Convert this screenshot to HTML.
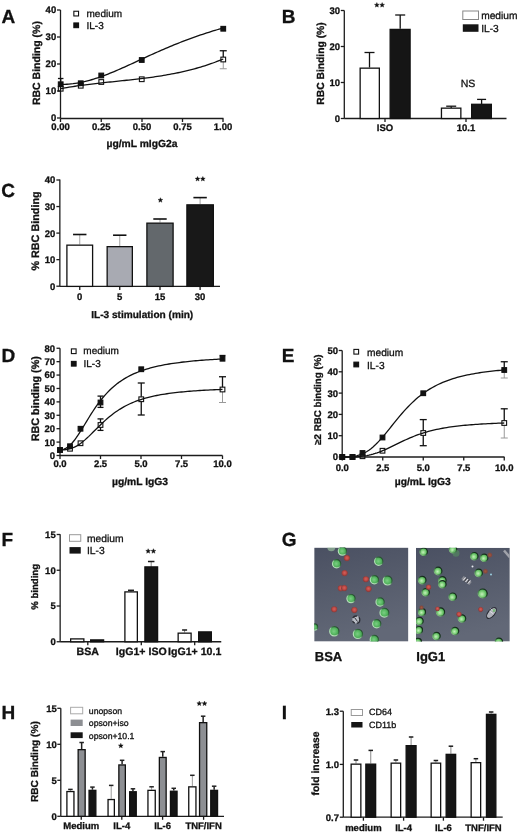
<!DOCTYPE html>
<html><head><meta charset="utf-8"><style>
html,body{margin:0;padding:0;background:#fff;width:520px;height:832px;overflow:hidden}
#w{will-change:transform;width:520px;height:832px}
svg{display:block;font-family:"Liberation Sans", sans-serif;text-rendering:geometricPrecision}
</style></head><body>
<div id="w"><svg width="520" height="832" viewBox="0 0 520 832">
<rect width="520" height="832" fill="#fff"/>
<text x="1.40" y="22.60" font-size="19" text-anchor="start" font-weight="bold" fill="#111" stroke="#111" stroke-width="0.3" >A</text>
<text x="281.70" y="22.80" font-size="19" text-anchor="start" font-weight="bold" fill="#111" stroke="#111" stroke-width="0.3" >B</text>
<text x="1.30" y="196.60" font-size="19" text-anchor="start" font-weight="bold" fill="#111" stroke="#111" stroke-width="0.3" >C</text>
<text x="1.50" y="361.70" font-size="19" text-anchor="start" font-weight="bold" fill="#111" stroke="#111" stroke-width="0.3" >D</text>
<text x="281.70" y="361.70" font-size="19" text-anchor="start" font-weight="bold" fill="#111" stroke="#111" stroke-width="0.3" >E</text>
<text x="1.50" y="545.90" font-size="19" text-anchor="start" font-weight="bold" fill="#111" stroke="#111" stroke-width="0.3" >F</text>
<text x="281.80" y="545.90" font-size="19" text-anchor="start" font-weight="bold" fill="#111" stroke="#111" stroke-width="0.3" >G</text>
<text x="1.40" y="719.30" font-size="19" text-anchor="start" font-weight="bold" fill="#111" stroke="#111" stroke-width="0.3" >H</text>
<text x="281.70" y="719.30" font-size="19" text-anchor="start" font-weight="bold" fill="#111" stroke="#111" stroke-width="0.3" >I</text>
<line x1="60.50" y1="10.00" x2="60.50" y2="118.50" stroke="#1c1c1c" stroke-width="1.3"/>
<line x1="57.00" y1="118.00" x2="60.50" y2="118.00" stroke="#1c1c1c" stroke-width="1.3"/>
<text x="56.20" y="121.42" font-size="9.5" text-anchor="end" font-weight="bold" fill="#111" stroke="#111" stroke-width="0.3" >0</text>
<line x1="57.00" y1="91.00" x2="60.50" y2="91.00" stroke="#1c1c1c" stroke-width="1.3"/>
<text x="56.20" y="94.42" font-size="9.5" text-anchor="end" font-weight="bold" fill="#111" stroke="#111" stroke-width="0.3" >10</text>
<line x1="57.00" y1="64.00" x2="60.50" y2="64.00" stroke="#1c1c1c" stroke-width="1.3"/>
<text x="56.20" y="67.42" font-size="9.5" text-anchor="end" font-weight="bold" fill="#111" stroke="#111" stroke-width="0.3" >20</text>
<line x1="57.00" y1="37.00" x2="60.50" y2="37.00" stroke="#1c1c1c" stroke-width="1.3"/>
<text x="56.20" y="40.42" font-size="9.5" text-anchor="end" font-weight="bold" fill="#111" stroke="#111" stroke-width="0.3" >30</text>
<line x1="57.00" y1="10.00" x2="60.50" y2="10.00" stroke="#1c1c1c" stroke-width="1.3"/>
<text x="56.20" y="13.42" font-size="9.5" text-anchor="end" font-weight="bold" fill="#111" stroke="#111" stroke-width="0.3" >40</text>
<line x1="60.50" y1="118.50" x2="223.50" y2="118.50" stroke="#1c1c1c" stroke-width="1.3"/>
<line x1="60.50" y1="118.50" x2="60.50" y2="122.00" stroke="#1c1c1c" stroke-width="1.3"/>
<text x="60.50" y="130.34" font-size="9.5" text-anchor="middle" font-weight="bold" fill="#111" stroke="#111" stroke-width="0.3" >0.00</text>
<line x1="101.25" y1="118.50" x2="101.25" y2="122.00" stroke="#1c1c1c" stroke-width="1.3"/>
<text x="101.25" y="130.34" font-size="9.5" text-anchor="middle" font-weight="bold" fill="#111" stroke="#111" stroke-width="0.3" >0.25</text>
<line x1="142.00" y1="118.50" x2="142.00" y2="122.00" stroke="#1c1c1c" stroke-width="1.3"/>
<text x="142.00" y="130.34" font-size="9.5" text-anchor="middle" font-weight="bold" fill="#111" stroke="#111" stroke-width="0.3" >0.50</text>
<line x1="182.50" y1="118.50" x2="182.50" y2="122.00" stroke="#1c1c1c" stroke-width="1.3"/>
<text x="182.50" y="130.34" font-size="9.5" text-anchor="middle" font-weight="bold" fill="#111" stroke="#111" stroke-width="0.3" >0.75</text>
<line x1="223.00" y1="118.50" x2="223.00" y2="122.00" stroke="#1c1c1c" stroke-width="1.3"/>
<text x="223.00" y="130.34" font-size="9.5" text-anchor="middle" font-weight="bold" fill="#111" stroke="#111" stroke-width="0.3" >1.00</text>
<text x="0" y="0" font-size="10.5" text-anchor="middle" font-weight="bold" fill="#111" stroke="#111" stroke-width="0.3" transform="translate(40.28,63.10) rotate(-90)">RBC Binding (%)</text>
<text x="142.00" y="146.50" font-size="10.3" text-anchor="middle" font-weight="bold" fill="#111" stroke="#111" stroke-width="0.3" >µg/mL mIgG2a</text>
<rect x="73.85" y="11.25" width="4.70" height="4.70" fill="none" stroke="#111" stroke-width="1.1"/>
<rect x="73.85" y="22.95" width="4.70" height="4.70" fill="#111" stroke="#111" stroke-width="1.1"/>
<text x="86.50" y="17.00" font-size="10" text-anchor="start" font-weight="normal" fill="#111" stroke="#111" stroke-width="0.3" >medium</text>
<text x="86.50" y="28.80" font-size="10" text-anchor="start" font-weight="normal" fill="#111" stroke="#111" stroke-width="0.3" >IL-3</text>
<path d="M60.71,84.42 L62.77,84.40 L64.82,84.34 L66.88,84.23 L68.94,84.08 L71.00,83.89 L73.05,83.66 L75.11,83.38 L77.17,83.06 L79.23,82.71 L81.28,82.31 L83.34,81.87 L85.40,81.39 L87.46,80.88 L89.51,80.33 L91.57,79.75 L93.63,79.14 L95.69,78.49 L97.74,77.82 L99.80,77.11 L101.86,76.38 L103.92,75.63 L105.97,74.85 L108.03,74.04 L110.09,73.22 L112.15,72.38 L114.20,71.53 L116.26,70.65 L118.32,69.77 L120.38,68.87 L122.43,67.96 L124.49,67.04 L126.55,66.11 L128.61,65.17 L130.66,64.23 L132.72,63.29 L134.78,62.34 L136.84,61.39 L138.89,60.44 L140.95,59.49 L143.01,58.54 L145.07,57.59 L147.12,56.65 L149.18,55.71 L151.24,54.77 L153.30,53.84 L155.35,52.92 L157.41,52.00 L159.47,51.09 L161.53,50.19 L163.58,49.30 L165.64,48.41 L167.70,47.54 L169.76,46.67 L171.81,45.81 L173.87,44.97 L175.93,44.13 L177.99,43.31 L180.04,42.49 L182.10,41.69 L184.16,40.90 L186.22,40.11 L188.27,39.34 L190.33,38.58 L192.39,37.84 L194.45,37.10 L196.50,36.38 L198.56,35.66 L200.62,34.96 L202.68,34.27 L204.73,33.59 L206.79,32.92 L208.85,32.27 L210.91,31.62 L212.96,30.98 L215.02,30.36 L217.08,29.75 L219.14,29.15 L221.19,28.55 L223.25,27.97" fill="none" stroke="#111" stroke-width="1.3"/>
<path d="M60.70,88.67 L62.76,88.29 L64.82,87.92 L66.87,87.57 L68.93,87.22 L70.99,86.89 L73.05,86.57 L75.10,86.26 L77.16,85.96 L79.22,85.66 L81.28,85.38 L83.33,85.10 L85.39,84.83 L87.45,84.57 L89.51,84.31 L91.56,84.06 L93.62,83.81 L95.68,83.57 L97.74,83.34 L99.79,83.11 L101.85,82.88 L103.91,82.66 L105.97,82.44 L108.02,82.22 L110.08,82.00 L112.14,81.78 L114.20,81.57 L116.26,81.35 L118.31,81.14 L120.37,80.92 L122.43,80.71 L124.49,80.49 L126.54,80.27 L128.60,80.05 L130.66,79.82 L132.72,79.59 L134.77,79.36 L136.83,79.13 L138.89,78.88 L140.95,78.64 L143.00,78.38 L145.06,78.13 L147.12,77.86 L149.18,77.59 L151.23,77.31 L153.29,77.02 L155.35,76.72 L157.41,76.42 L159.46,76.10 L161.52,75.77 L163.58,75.44 L165.64,75.09 L167.69,74.73 L169.75,74.36 L171.81,73.98 L173.87,73.59 L175.93,73.18 L177.98,72.75 L180.04,72.32 L182.10,71.87 L184.16,71.40 L186.21,70.92 L188.27,70.42 L190.33,69.90 L192.39,69.37 L194.44,68.82 L196.50,68.25 L198.56,67.67 L200.62,67.06 L202.67,66.44 L204.73,65.79 L206.79,65.13 L208.85,64.44 L210.90,63.73 L212.96,63.01 L215.02,62.25 L217.08,61.48 L219.13,60.68 L221.19,59.86 L223.25,59.02" fill="none" stroke="#111" stroke-width="1.3"/>
<line x1="60.70" y1="81.85" x2="60.70" y2="78.50" stroke="#111" stroke-width="1.3"/>
<line x1="57.95" y1="78.50" x2="63.45" y2="78.50" stroke="#111" stroke-width="1.3"/>
<line x1="223.25" y1="57.10" x2="223.25" y2="50.75" stroke="#111" stroke-width="1.3"/>
<line x1="219.75" y1="50.75" x2="226.75" y2="50.75" stroke="#111" stroke-width="1.3"/>
<line x1="223.25" y1="61.90" x2="223.25" y2="68.75" stroke="#999" stroke-width="1.0"/>
<line x1="219.75" y1="68.75" x2="226.75" y2="68.75" stroke="#999" stroke-width="1.0"/>
<rect x="58.35" y="81.90" width="4.70" height="4.70" fill="#111" stroke="#111" stroke-width="1.1"/>
<rect x="78.40" y="80.90" width="4.70" height="4.70" fill="#111" stroke="#111" stroke-width="1.1"/>
<rect x="98.90" y="73.15" width="4.70" height="4.70" fill="#111" stroke="#111" stroke-width="1.1"/>
<rect x="139.40" y="57.65" width="4.70" height="4.70" fill="#111" stroke="#111" stroke-width="1.1"/>
<rect x="220.90" y="26.40" width="4.70" height="4.70" fill="#111" stroke="#111" stroke-width="1.1"/>
<rect x="58.35" y="86.40" width="4.70" height="4.70" fill="none" stroke="#111" stroke-width="1.1"/>
<rect x="78.40" y="83.40" width="4.70" height="4.70" fill="none" stroke="#111" stroke-width="1.1"/>
<rect x="98.90" y="79.65" width="4.70" height="4.70" fill="none" stroke="#111" stroke-width="1.1"/>
<rect x="139.40" y="76.90" width="4.70" height="4.70" fill="none" stroke="#111" stroke-width="1.1"/>
<rect x="220.90" y="57.15" width="4.70" height="4.70" fill="none" stroke="#111" stroke-width="1.1"/>
<line x1="344.30" y1="10.50" x2="344.30" y2="118.50" stroke="#1c1c1c" stroke-width="1.3"/>
<line x1="340.80" y1="118.50" x2="344.30" y2="118.50" stroke="#1c1c1c" stroke-width="1.3"/>
<text x="340.00" y="121.92" font-size="9.5" text-anchor="end" font-weight="bold" fill="#111" stroke="#111" stroke-width="0.3" >0</text>
<line x1="340.80" y1="82.50" x2="344.30" y2="82.50" stroke="#1c1c1c" stroke-width="1.3"/>
<text x="340.00" y="85.92" font-size="9.5" text-anchor="end" font-weight="bold" fill="#111" stroke="#111" stroke-width="0.3" >10</text>
<line x1="340.80" y1="46.50" x2="344.30" y2="46.50" stroke="#1c1c1c" stroke-width="1.3"/>
<text x="340.00" y="49.92" font-size="9.5" text-anchor="end" font-weight="bold" fill="#111" stroke="#111" stroke-width="0.3" >20</text>
<line x1="340.80" y1="10.50" x2="344.30" y2="10.50" stroke="#1c1c1c" stroke-width="1.3"/>
<text x="340.00" y="13.92" font-size="9.5" text-anchor="end" font-weight="bold" fill="#111" stroke="#111" stroke-width="0.3" >30</text>
<line x1="344.30" y1="118.50" x2="506.50" y2="118.50" stroke="#1c1c1c" stroke-width="1.3"/>
<line x1="385.00" y1="118.50" x2="385.00" y2="122.00" stroke="#1c1c1c" stroke-width="1.3"/>
<text x="385.00" y="131.30" font-size="9.5" text-anchor="middle" font-weight="bold" fill="#111" stroke="#111" stroke-width="0.3" >ISO</text>
<line x1="466.00" y1="118.50" x2="466.00" y2="122.00" stroke="#1c1c1c" stroke-width="1.3"/>
<text x="466.00" y="131.30" font-size="9.5" text-anchor="middle" font-weight="bold" fill="#111" stroke="#111" stroke-width="0.3" >10.1</text>
<text x="0" y="0" font-size="10.3" text-anchor="middle" font-weight="bold" fill="#111" stroke="#111" stroke-width="0.3" transform="translate(323.71,63.50) rotate(-90)">RBC Binding (%)</text>
<line x1="369.50" y1="67.50" x2="369.50" y2="52.50" stroke="#111" stroke-width="1.3"/>
<line x1="364.50" y1="52.50" x2="374.50" y2="52.50" stroke="#111" stroke-width="1.3"/>
<rect x="360.15" y="68.15" width="19.20" height="50.35" fill="#fff" stroke="#111" stroke-width="1.3"/>
<line x1="400.20" y1="28.75" x2="400.20" y2="15.00" stroke="#111" stroke-width="1.3"/>
<line x1="395.20" y1="15.00" x2="405.20" y2="15.00" stroke="#111" stroke-width="1.3"/>
<rect x="390.15" y="29.40" width="19.95" height="89.10" fill="#151515" stroke="#111" stroke-width="1.3"/>
<line x1="451.20" y1="108.00" x2="451.20" y2="106.20" stroke="#111" stroke-width="1.3"/>
<line x1="446.20" y1="106.20" x2="456.20" y2="106.20" stroke="#111" stroke-width="1.3"/>
<rect x="441.45" y="108.15" width="19.40" height="10.35" fill="#fff" stroke="#111" stroke-width="1.3"/>
<line x1="481.60" y1="104.00" x2="481.60" y2="99.40" stroke="#111" stroke-width="1.3"/>
<line x1="477.10" y1="99.40" x2="486.10" y2="99.40" stroke="#111" stroke-width="1.3"/>
<rect x="471.65" y="104.30" width="19.70" height="14.20" fill="#151515" stroke="#111" stroke-width="1.3"/>
<polygon points="376.85,2.60 377.50,4.21 379.23,4.33 377.90,5.44 378.32,7.12 376.85,6.20 375.38,7.12 375.80,5.44 374.47,4.33 376.20,4.21" fill="#111" stroke="#111" stroke-width="0.4"/>
<polygon points="382.15,2.60 382.80,4.21 384.53,4.33 383.20,5.44 383.62,7.12 382.15,6.20 380.68,7.12 381.10,5.44 379.77,4.33 381.50,4.21" fill="#111" stroke="#111" stroke-width="0.4"/>
<text x="468.00" y="86.90" font-size="10.5" text-anchor="middle" font-weight="normal" fill="#111" stroke="#111" stroke-width="0.3" >NS</text>
<rect x="462.8" y="11" width="15.7" height="8.5" fill="#fff" stroke="#888" stroke-width="1"/>
<rect x="462.8" y="24.3" width="15.7" height="7.5" fill="#151515"/>
<text x="481.20" y="19.30" font-size="10.2" text-anchor="start" font-weight="normal" fill="#111" stroke="#111" stroke-width="0.3" >medium</text>
<text x="481.20" y="31.60" font-size="10.2" text-anchor="start" font-weight="normal" fill="#111" stroke="#111" stroke-width="0.3" >IL-3</text>
<line x1="59.85" y1="179.60" x2="59.85" y2="286.40" stroke="#1c1c1c" stroke-width="1.3"/>
<line x1="56.35" y1="286.20" x2="59.85" y2="286.20" stroke="#1c1c1c" stroke-width="1.3"/>
<text x="55.30" y="289.62" font-size="9.5" text-anchor="end" font-weight="bold" fill="#111" stroke="#111" stroke-width="0.3" >0</text>
<line x1="56.35" y1="259.65" x2="59.85" y2="259.65" stroke="#1c1c1c" stroke-width="1.3"/>
<text x="55.30" y="263.07" font-size="9.5" text-anchor="end" font-weight="bold" fill="#111" stroke="#111" stroke-width="0.3" >10</text>
<line x1="56.35" y1="233.10" x2="59.85" y2="233.10" stroke="#1c1c1c" stroke-width="1.3"/>
<text x="55.30" y="236.52" font-size="9.5" text-anchor="end" font-weight="bold" fill="#111" stroke="#111" stroke-width="0.3" >20</text>
<line x1="56.35" y1="206.55" x2="59.85" y2="206.55" stroke="#1c1c1c" stroke-width="1.3"/>
<text x="55.30" y="209.97" font-size="9.5" text-anchor="end" font-weight="bold" fill="#111" stroke="#111" stroke-width="0.3" >30</text>
<line x1="56.35" y1="180.00" x2="59.85" y2="180.00" stroke="#1c1c1c" stroke-width="1.3"/>
<text x="55.30" y="183.42" font-size="9.5" text-anchor="end" font-weight="bold" fill="#111" stroke="#111" stroke-width="0.3" >40</text>
<line x1="59.85" y1="286.40" x2="220.00" y2="286.40" stroke="#1c1c1c" stroke-width="1.3"/>
<line x1="79.75" y1="286.40" x2="79.75" y2="289.90" stroke="#1c1c1c" stroke-width="1.3"/>
<text x="79.75" y="299.60" font-size="9.5" text-anchor="middle" font-weight="bold" fill="#111" stroke="#111" stroke-width="0.3" >0</text>
<line x1="119.75" y1="286.40" x2="119.75" y2="289.90" stroke="#1c1c1c" stroke-width="1.3"/>
<text x="119.75" y="299.60" font-size="9.5" text-anchor="middle" font-weight="bold" fill="#111" stroke="#111" stroke-width="0.3" >5</text>
<line x1="160.00" y1="286.40" x2="160.00" y2="289.90" stroke="#1c1c1c" stroke-width="1.3"/>
<text x="160.00" y="299.60" font-size="9.5" text-anchor="middle" font-weight="bold" fill="#111" stroke="#111" stroke-width="0.3" >15</text>
<line x1="200.10" y1="286.40" x2="200.10" y2="289.90" stroke="#1c1c1c" stroke-width="1.3"/>
<text x="200.10" y="299.60" font-size="9.5" text-anchor="middle" font-weight="bold" fill="#111" stroke="#111" stroke-width="0.3" >30</text>
<text x="0" y="0" font-size="10.8" text-anchor="middle" font-weight="bold" fill="#111" stroke="#111" stroke-width="0.3" transform="translate(38.89,231.00) rotate(-90)">% RBC Binding</text>
<text x="142.20" y="317.60" font-size="10.1" text-anchor="middle" font-weight="bold" fill="#111" stroke="#111" stroke-width="0.3" >IL-3 stimulation (min)</text>
<line x1="79.75" y1="244.50" x2="79.75" y2="234.50" stroke="#9a9a9a" stroke-width="0.9"/>
<line x1="73.05" y1="234.50" x2="86.45" y2="234.50" stroke="#111" stroke-width="1.6"/>
<rect x="66.90" y="245.15" width="25.70" height="41.25" fill="#fff" stroke="#111" stroke-width="1.3"/>
<line x1="119.75" y1="246.00" x2="119.75" y2="235.20" stroke="#9a9a9a" stroke-width="0.9"/>
<line x1="113.05" y1="235.20" x2="126.45" y2="235.20" stroke="#111" stroke-width="1.6"/>
<rect x="107.15" y="246.65" width="25.20" height="39.75" fill="#a8aab2" stroke="#111" stroke-width="1.3"/>
<line x1="160.00" y1="222.50" x2="160.00" y2="219.00" stroke="#9a9a9a" stroke-width="0.9"/>
<line x1="153.30" y1="219.00" x2="166.70" y2="219.00" stroke="#111" stroke-width="1.6"/>
<rect x="146.90" y="223.15" width="26.20" height="63.25" fill="#63686c" stroke="#111" stroke-width="1.3"/>
<line x1="200.10" y1="204.20" x2="200.10" y2="197.60" stroke="#9a9a9a" stroke-width="0.9"/>
<line x1="193.40" y1="197.60" x2="206.80" y2="197.60" stroke="#111" stroke-width="1.6"/>
<rect x="186.90" y="204.85" width="26.45" height="81.55" fill="#181818" stroke="#111" stroke-width="1.3"/>
<polygon points="160.40,197.70 161.05,199.31 162.78,199.43 161.45,200.54 161.87,202.22 160.40,201.30 158.93,202.22 159.35,200.54 158.02,199.43 159.75,199.31" fill="#111" stroke="#111" stroke-width="0.4"/>
<polygon points="197.55,176.50 198.20,178.11 199.93,178.23 198.60,179.34 199.02,181.02 197.55,180.10 196.08,181.02 196.50,179.34 195.17,178.23 196.90,178.11" fill="#111" stroke="#111" stroke-width="0.4"/>
<polygon points="202.85,176.50 203.50,178.11 205.23,178.23 203.90,179.34 204.32,181.02 202.85,180.10 201.38,181.02 201.80,179.34 200.47,178.23 202.20,178.11" fill="#111" stroke="#111" stroke-width="0.4"/>
<line x1="60.00" y1="348.25" x2="60.00" y2="455.50" stroke="#1c1c1c" stroke-width="1.3"/>
<line x1="56.50" y1="455.50" x2="60.00" y2="455.50" stroke="#1c1c1c" stroke-width="1.3"/>
<text x="55.00" y="458.92" font-size="9.5" text-anchor="end" font-weight="bold" fill="#111" stroke="#111" stroke-width="0.3" >0</text>
<line x1="56.50" y1="442.09" x2="60.00" y2="442.09" stroke="#1c1c1c" stroke-width="1.3"/>
<text x="55.00" y="445.51" font-size="9.5" text-anchor="end" font-weight="bold" fill="#111" stroke="#111" stroke-width="0.3" >10</text>
<line x1="56.50" y1="428.69" x2="60.00" y2="428.69" stroke="#1c1c1c" stroke-width="1.3"/>
<text x="55.00" y="432.11" font-size="9.5" text-anchor="end" font-weight="bold" fill="#111" stroke="#111" stroke-width="0.3" >20</text>
<line x1="56.50" y1="415.28" x2="60.00" y2="415.28" stroke="#1c1c1c" stroke-width="1.3"/>
<text x="55.00" y="418.70" font-size="9.5" text-anchor="end" font-weight="bold" fill="#111" stroke="#111" stroke-width="0.3" >30</text>
<line x1="56.50" y1="401.88" x2="60.00" y2="401.88" stroke="#1c1c1c" stroke-width="1.3"/>
<text x="55.00" y="405.30" font-size="9.5" text-anchor="end" font-weight="bold" fill="#111" stroke="#111" stroke-width="0.3" >40</text>
<line x1="56.50" y1="388.47" x2="60.00" y2="388.47" stroke="#1c1c1c" stroke-width="1.3"/>
<text x="55.00" y="391.89" font-size="9.5" text-anchor="end" font-weight="bold" fill="#111" stroke="#111" stroke-width="0.3" >50</text>
<line x1="56.50" y1="375.06" x2="60.00" y2="375.06" stroke="#1c1c1c" stroke-width="1.3"/>
<text x="55.00" y="378.48" font-size="9.5" text-anchor="end" font-weight="bold" fill="#111" stroke="#111" stroke-width="0.3" >60</text>
<line x1="56.50" y1="361.66" x2="60.00" y2="361.66" stroke="#1c1c1c" stroke-width="1.3"/>
<text x="55.00" y="365.08" font-size="9.5" text-anchor="end" font-weight="bold" fill="#111" stroke="#111" stroke-width="0.3" >70</text>
<line x1="56.50" y1="348.25" x2="60.00" y2="348.25" stroke="#1c1c1c" stroke-width="1.3"/>
<text x="55.00" y="351.67" font-size="9.5" text-anchor="end" font-weight="bold" fill="#111" stroke="#111" stroke-width="0.3" >80</text>
<line x1="60.00" y1="455.50" x2="222.50" y2="455.50" stroke="#1c1c1c" stroke-width="1.3"/>
<line x1="60.00" y1="455.50" x2="60.00" y2="459.00" stroke="#1c1c1c" stroke-width="1.3"/>
<text x="60.00" y="467.34" font-size="9.5" text-anchor="middle" font-weight="bold" fill="#111" stroke="#111" stroke-width="0.3" >0.0</text>
<line x1="100.50" y1="455.50" x2="100.50" y2="459.00" stroke="#1c1c1c" stroke-width="1.3"/>
<text x="100.50" y="467.34" font-size="9.5" text-anchor="middle" font-weight="bold" fill="#111" stroke="#111" stroke-width="0.3" >2.5</text>
<line x1="141.00" y1="455.50" x2="141.00" y2="459.00" stroke="#1c1c1c" stroke-width="1.3"/>
<text x="141.00" y="467.34" font-size="9.5" text-anchor="middle" font-weight="bold" fill="#111" stroke="#111" stroke-width="0.3" >5.0</text>
<line x1="181.50" y1="455.50" x2="181.50" y2="459.00" stroke="#1c1c1c" stroke-width="1.3"/>
<text x="181.50" y="467.34" font-size="9.5" text-anchor="middle" font-weight="bold" fill="#111" stroke="#111" stroke-width="0.3" >7.5</text>
<line x1="222.50" y1="455.50" x2="222.50" y2="459.00" stroke="#1c1c1c" stroke-width="1.3"/>
<text x="222.50" y="467.34" font-size="9.5" text-anchor="middle" font-weight="bold" fill="#111" stroke="#111" stroke-width="0.3" >10.0</text>
<text x="0" y="0" font-size="10.8" text-anchor="middle" font-weight="bold" fill="#111" stroke="#111" stroke-width="0.3" transform="translate(39.19,398.70) rotate(-90)">RBC binding (%)</text>
<text x="140.00" y="485.20" font-size="10.3" text-anchor="middle" font-weight="bold" fill="#111" stroke="#111" stroke-width="0.3" >µg/mL IgG3</text>
<rect x="71.40" y="348.90" width="4.70" height="4.70" fill="none" stroke="#111" stroke-width="1.1"/>
<rect x="71.40" y="361.40" width="4.70" height="4.70" fill="#111" stroke="#111" stroke-width="1.1"/>
<text x="83.30" y="354.20" font-size="10" text-anchor="start" font-weight="normal" fill="#111" stroke="#111" stroke-width="0.3" >medium</text>
<text x="83.50" y="367.30" font-size="10" text-anchor="start" font-weight="normal" fill="#111" stroke="#111" stroke-width="0.3" >IL-3</text>
<path d="M60.01,449.74 L62.07,449.59 L64.12,449.07 L66.18,448.13 L68.24,446.75 L70.29,444.96 L72.35,442.78 L74.41,440.26 L76.46,437.45 L78.52,434.40 L80.58,431.19 L82.64,427.86 L84.69,424.48 L86.75,421.09 L88.81,417.74 L90.86,414.45 L92.92,411.26 L94.98,408.18 L97.03,405.23 L99.09,402.42 L101.15,399.75 L103.20,397.23 L105.26,394.85 L107.32,392.61 L109.37,390.51 L111.43,388.54 L113.49,386.70 L115.54,384.97 L117.60,383.36 L119.66,381.85 L121.72,380.44 L123.77,379.12 L125.83,377.89 L127.89,376.74 L129.94,375.66 L132.00,374.64 L134.06,373.70 L136.11,372.81 L138.17,371.98 L140.23,371.20 L142.28,370.46 L144.34,369.77 L146.40,369.12 L148.45,368.51 L150.51,367.94 L152.57,367.40 L154.62,366.89 L156.68,366.40 L158.74,365.95 L160.79,365.52 L162.85,365.11 L164.91,364.72 L166.97,364.35 L169.02,364.01 L171.08,363.68 L173.14,363.37 L175.19,363.07 L177.25,362.79 L179.31,362.52 L181.36,362.26 L183.42,362.02 L185.48,361.78 L187.53,361.56 L189.59,361.35 L191.65,361.15 L193.70,360.96 L195.76,360.77 L197.82,360.59 L199.87,360.43 L201.93,360.26 L203.99,360.11 L206.05,359.96 L208.10,359.82 L210.16,359.68 L212.22,359.55 L214.27,359.42 L216.33,359.30 L218.39,359.19 L220.44,359.07 L222.50,358.97" fill="none" stroke="#111" stroke-width="1.3"/>
<path d="M60.01,449.85 L62.07,449.84 L64.12,449.74 L66.18,449.54 L68.24,449.20 L70.29,448.69 L72.35,448.01 L74.41,447.14 L76.46,446.08 L78.52,444.84 L80.58,443.42 L82.64,441.85 L84.69,440.13 L86.75,438.29 L88.81,436.37 L90.86,434.37 L92.92,432.33 L94.98,430.27 L97.03,428.22 L99.09,426.18 L101.15,424.19 L103.20,422.24 L105.26,420.36 L107.32,418.54 L109.37,416.80 L111.43,415.15 L113.49,413.57 L115.54,412.08 L117.60,410.67 L119.66,409.33 L121.72,408.08 L123.77,406.90 L125.83,405.79 L127.89,404.76 L129.94,403.78 L132.00,402.87 L134.06,402.01 L136.11,401.21 L138.17,400.46 L140.23,399.76 L142.28,399.10 L144.34,398.48 L146.40,397.91 L148.45,397.36 L150.51,396.85 L152.57,396.38 L154.62,395.93 L156.68,395.50 L158.74,395.11 L160.79,394.73 L162.85,394.38 L164.91,394.05 L166.97,393.74 L169.02,393.44 L171.08,393.17 L173.14,392.90 L175.19,392.66 L177.25,392.42 L179.31,392.20 L181.36,391.99 L183.42,391.79 L185.48,391.60 L187.53,391.42 L189.59,391.25 L191.65,391.09 L193.70,390.94 L195.76,390.79 L197.82,390.65 L199.87,390.52 L201.93,390.39 L203.99,390.27 L206.05,390.16 L208.10,390.05 L210.16,389.94 L212.22,389.84 L214.27,389.75 L216.33,389.66 L218.39,389.57 L220.44,389.49 L222.50,389.41" fill="none" stroke="#111" stroke-width="1.3"/>
<line x1="100.50" y1="399.90" x2="100.50" y2="396.10" stroke="#111" stroke-width="1.3"/>
<line x1="97.50" y1="396.10" x2="103.50" y2="396.10" stroke="#111" stroke-width="1.3"/>
<line x1="100.50" y1="404.70" x2="100.50" y2="407.40" stroke="#111" stroke-width="1.3"/>
<line x1="97.50" y1="407.40" x2="103.50" y2="407.40" stroke="#111" stroke-width="1.3"/>
<line x1="100.50" y1="422.60" x2="100.50" y2="418.90" stroke="#111" stroke-width="1.3"/>
<line x1="97.50" y1="418.90" x2="103.50" y2="418.90" stroke="#111" stroke-width="1.3"/>
<line x1="100.50" y1="427.40" x2="100.50" y2="430.40" stroke="#111" stroke-width="1.3"/>
<line x1="97.50" y1="430.40" x2="103.50" y2="430.40" stroke="#111" stroke-width="1.3"/>
<line x1="141.25" y1="396.85" x2="141.25" y2="383.00" stroke="#111" stroke-width="1.3"/>
<line x1="137.75" y1="383.00" x2="144.75" y2="383.00" stroke="#111" stroke-width="1.3"/>
<line x1="141.25" y1="401.65" x2="141.25" y2="415.00" stroke="#111" stroke-width="1.3"/>
<line x1="137.75" y1="415.00" x2="144.75" y2="415.00" stroke="#111" stroke-width="1.3"/>
<line x1="222.50" y1="387.10" x2="222.50" y2="376.75" stroke="#111" stroke-width="1.3"/>
<line x1="219.00" y1="376.75" x2="226.00" y2="376.75" stroke="#111" stroke-width="1.3"/>
<line x1="222.50" y1="391.90" x2="222.50" y2="402.50" stroke="#999" stroke-width="1.0"/>
<line x1="219.00" y1="402.50" x2="226.00" y2="402.50" stroke="#999" stroke-width="1.0"/>
<line x1="222.50" y1="356.35" x2="222.50" y2="355.50" stroke="#111" stroke-width="1.3"/>
<line x1="219.50" y1="355.50" x2="225.50" y2="355.50" stroke="#111" stroke-width="1.3"/>
<rect x="57.65" y="447.65" width="4.70" height="4.70" fill="none" stroke="#111" stroke-width="1.1"/>
<rect x="67.65" y="446.40" width="4.70" height="4.70" fill="none" stroke="#111" stroke-width="1.1"/>
<rect x="78.15" y="440.90" width="4.70" height="4.70" fill="none" stroke="#111" stroke-width="1.1"/>
<rect x="98.15" y="422.65" width="4.70" height="4.70" fill="none" stroke="#111" stroke-width="1.1"/>
<rect x="138.90" y="396.90" width="4.70" height="4.70" fill="none" stroke="#111" stroke-width="1.1"/>
<rect x="220.15" y="387.15" width="4.70" height="4.70" fill="none" stroke="#111" stroke-width="1.1"/>
<rect x="57.65" y="447.65" width="4.70" height="4.70" fill="#111" stroke="#111" stroke-width="1.1"/>
<rect x="67.65" y="443.90" width="4.70" height="4.70" fill="#111" stroke="#111" stroke-width="1.1"/>
<rect x="78.15" y="426.40" width="4.70" height="4.70" fill="#111" stroke="#111" stroke-width="1.1"/>
<rect x="98.15" y="400.15" width="4.70" height="4.70" fill="#111" stroke="#111" stroke-width="1.1"/>
<rect x="138.90" y="366.90" width="4.70" height="4.70" fill="#111" stroke="#111" stroke-width="1.1"/>
<rect x="220.15" y="356.40" width="4.70" height="4.70" fill="#111" stroke="#111" stroke-width="1.1"/>
<line x1="342.20" y1="350.50" x2="342.20" y2="457.00" stroke="#1c1c1c" stroke-width="1.3"/>
<line x1="338.70" y1="457.00" x2="342.20" y2="457.00" stroke="#1c1c1c" stroke-width="1.3"/>
<text x="338.00" y="460.42" font-size="9.5" text-anchor="end" font-weight="bold" fill="#111" stroke="#111" stroke-width="0.3" >0</text>
<line x1="338.70" y1="435.70" x2="342.20" y2="435.70" stroke="#1c1c1c" stroke-width="1.3"/>
<text x="338.00" y="439.12" font-size="9.5" text-anchor="end" font-weight="bold" fill="#111" stroke="#111" stroke-width="0.3" >10</text>
<line x1="338.70" y1="414.40" x2="342.20" y2="414.40" stroke="#1c1c1c" stroke-width="1.3"/>
<text x="338.00" y="417.82" font-size="9.5" text-anchor="end" font-weight="bold" fill="#111" stroke="#111" stroke-width="0.3" >20</text>
<line x1="338.70" y1="393.10" x2="342.20" y2="393.10" stroke="#1c1c1c" stroke-width="1.3"/>
<text x="338.00" y="396.52" font-size="9.5" text-anchor="end" font-weight="bold" fill="#111" stroke="#111" stroke-width="0.3" >30</text>
<line x1="338.70" y1="371.80" x2="342.20" y2="371.80" stroke="#1c1c1c" stroke-width="1.3"/>
<text x="338.00" y="375.22" font-size="9.5" text-anchor="end" font-weight="bold" fill="#111" stroke="#111" stroke-width="0.3" >40</text>
<line x1="338.70" y1="350.50" x2="342.20" y2="350.50" stroke="#1c1c1c" stroke-width="1.3"/>
<text x="338.00" y="353.92" font-size="9.5" text-anchor="end" font-weight="bold" fill="#111" stroke="#111" stroke-width="0.3" >50</text>
<line x1="342.20" y1="457.00" x2="504.50" y2="457.00" stroke="#1c1c1c" stroke-width="1.3"/>
<line x1="342.25" y1="457.00" x2="342.25" y2="460.50" stroke="#1c1c1c" stroke-width="1.3"/>
<text x="342.25" y="471.00" font-size="9.5" text-anchor="middle" font-weight="bold" fill="#111" stroke="#111" stroke-width="0.3" >0.0</text>
<line x1="382.75" y1="457.00" x2="382.75" y2="460.50" stroke="#1c1c1c" stroke-width="1.3"/>
<text x="382.75" y="471.00" font-size="9.5" text-anchor="middle" font-weight="bold" fill="#111" stroke="#111" stroke-width="0.3" >2.5</text>
<line x1="423.25" y1="457.00" x2="423.25" y2="460.50" stroke="#1c1c1c" stroke-width="1.3"/>
<text x="423.25" y="471.00" font-size="9.5" text-anchor="middle" font-weight="bold" fill="#111" stroke="#111" stroke-width="0.3" >5.0</text>
<line x1="463.75" y1="457.00" x2="463.75" y2="460.50" stroke="#1c1c1c" stroke-width="1.3"/>
<text x="463.75" y="471.00" font-size="9.5" text-anchor="middle" font-weight="bold" fill="#111" stroke="#111" stroke-width="0.3" >7.5</text>
<line x1="504.25" y1="457.00" x2="504.25" y2="460.50" stroke="#1c1c1c" stroke-width="1.3"/>
<text x="504.25" y="471.00" font-size="9.5" text-anchor="middle" font-weight="bold" fill="#111" stroke="#111" stroke-width="0.3" >10.0</text>
<text x="0" y="0" font-size="9.75" text-anchor="middle" font-weight="bold" fill="#111" stroke="#111" stroke-width="0.3" transform="translate(321.21,399.60) rotate(-90)">≥2 RBC binding (%)</text>
<text x="422.75" y="485.20" font-size="10.3" text-anchor="middle" font-weight="bold" fill="#111" stroke="#111" stroke-width="0.3" >µg/mL IgG3</text>
<rect x="353.90" y="349.40" width="4.70" height="4.70" fill="none" stroke="#111" stroke-width="1.1"/>
<rect x="353.90" y="362.15" width="4.70" height="4.70" fill="#111" stroke="#111" stroke-width="1.1"/>
<text x="367.00" y="356.00" font-size="10.2" text-anchor="start" font-weight="normal" fill="#111" stroke="#111" stroke-width="0.3" >medium</text>
<text x="367.00" y="368.60" font-size="10.2" text-anchor="start" font-weight="normal" fill="#111" stroke="#111" stroke-width="0.3" >IL-3</text>
<path d="M342.26,456.89 L344.31,456.89 L346.36,456.87 L348.41,456.80 L350.46,456.68 L352.51,456.49 L354.56,456.19 L356.61,455.78 L358.66,455.25 L360.71,454.56 L362.77,453.72 L364.82,452.71 L366.87,451.53 L368.92,450.18 L370.97,448.65 L373.02,446.95 L375.07,445.09 L377.12,443.08 L379.17,440.93 L381.22,438.67 L383.27,436.31 L385.32,433.86 L387.37,431.36 L389.42,428.82 L391.47,426.26 L393.52,423.70 L395.57,421.16 L397.62,418.65 L399.67,416.18 L401.72,413.78 L403.78,411.44 L405.83,409.17 L407.88,406.99 L409.93,404.88 L411.98,402.87 L414.03,400.95 L416.08,399.11 L418.13,397.36 L420.18,395.71 L422.23,394.13 L424.28,392.64 L426.33,391.23 L428.38,389.90 L430.43,388.64 L432.48,387.45 L434.53,386.32 L436.58,385.26 L438.63,384.26 L440.68,383.32 L442.73,382.43 L444.79,381.60 L446.84,380.81 L448.89,380.06 L450.94,379.36 L452.99,378.70 L455.04,378.07 L457.09,377.48 L459.14,376.92 L461.19,376.40 L463.24,375.90 L465.29,375.43 L467.34,374.98 L469.39,374.56 L471.44,374.16 L473.49,373.78 L475.54,373.42 L477.59,373.09 L479.64,372.76 L481.69,372.46 L483.74,372.17 L485.80,371.89 L487.85,371.63 L489.90,371.38 L491.95,371.15 L494.00,370.92 L496.05,370.71 L498.10,370.50 L500.15,370.31 L502.20,370.12 L504.25,369.95" fill="none" stroke="#111" stroke-width="1.3"/>
<path d="M342.26,457.05 L344.31,457.05 L346.36,457.04 L348.41,457.03 L350.46,457.00 L352.51,456.96 L354.56,456.88 L356.61,456.78 L358.66,456.63 L360.71,456.44 L362.77,456.21 L364.82,455.91 L366.87,455.56 L368.92,455.14 L370.97,454.66 L373.02,454.11 L375.07,453.49 L377.12,452.82 L379.17,452.08 L381.22,451.28 L383.27,450.43 L385.32,449.54 L387.37,448.61 L389.42,447.65 L391.47,446.66 L393.52,445.66 L395.57,444.66 L397.62,443.65 L399.67,442.65 L401.72,441.66 L403.78,440.69 L405.83,439.75 L407.88,438.83 L409.93,437.94 L411.98,437.09 L414.03,436.26 L416.08,435.47 L418.13,434.72 L420.18,434.00 L422.23,433.32 L424.28,432.68 L426.33,432.06 L428.38,431.48 L430.43,430.94 L432.48,430.42 L434.53,429.93 L436.58,429.47 L438.63,429.04 L440.68,428.63 L442.73,428.25 L444.79,427.89 L446.84,427.55 L448.89,427.23 L450.94,426.93 L452.99,426.64 L455.04,426.38 L457.09,426.12 L459.14,425.89 L461.19,425.66 L463.24,425.45 L465.29,425.26 L467.34,425.07 L469.39,424.89 L471.44,424.73 L473.49,424.57 L475.54,424.42 L477.59,424.28 L479.64,424.15 L481.69,424.02 L483.74,423.90 L485.80,423.79 L487.85,423.68 L489.90,423.58 L491.95,423.48 L494.00,423.39 L496.05,423.31 L498.10,423.22 L500.15,423.15 L502.20,423.07 L504.25,423.00" fill="none" stroke="#111" stroke-width="1.3"/>
<line x1="423.25" y1="430.60" x2="423.25" y2="419.60" stroke="#111" stroke-width="1.3"/>
<line x1="419.75" y1="419.60" x2="426.75" y2="419.60" stroke="#111" stroke-width="1.3"/>
<line x1="423.25" y1="435.40" x2="423.25" y2="445.70" stroke="#111" stroke-width="1.3"/>
<line x1="419.75" y1="445.70" x2="426.75" y2="445.70" stroke="#111" stroke-width="1.3"/>
<line x1="504.25" y1="420.60" x2="504.25" y2="408.80" stroke="#111" stroke-width="1.3"/>
<line x1="500.75" y1="408.80" x2="507.75" y2="408.80" stroke="#111" stroke-width="1.3"/>
<line x1="504.25" y1="425.40" x2="504.25" y2="438.00" stroke="#999" stroke-width="1.0"/>
<line x1="500.75" y1="438.00" x2="507.75" y2="438.00" stroke="#999" stroke-width="1.0"/>
<line x1="504.25" y1="367.60" x2="504.25" y2="361.75" stroke="#111" stroke-width="1.3"/>
<line x1="500.75" y1="361.75" x2="507.75" y2="361.75" stroke="#111" stroke-width="1.3"/>
<line x1="504.25" y1="372.40" x2="504.25" y2="378.00" stroke="#999" stroke-width="1.0"/>
<line x1="500.75" y1="378.00" x2="507.75" y2="378.00" stroke="#999" stroke-width="1.0"/>
<rect x="339.90" y="454.65" width="4.70" height="4.70" fill="none" stroke="#111" stroke-width="1.1"/>
<rect x="350.15" y="454.65" width="4.70" height="4.70" fill="none" stroke="#111" stroke-width="1.1"/>
<rect x="360.15" y="453.90" width="4.70" height="4.70" fill="none" stroke="#111" stroke-width="1.1"/>
<rect x="380.15" y="448.40" width="4.70" height="4.70" fill="none" stroke="#111" stroke-width="1.1"/>
<rect x="420.90" y="430.65" width="4.70" height="4.70" fill="none" stroke="#111" stroke-width="1.1"/>
<rect x="501.90" y="420.65" width="4.70" height="4.70" fill="none" stroke="#111" stroke-width="1.1"/>
<rect x="339.90" y="454.65" width="4.70" height="4.70" fill="#111" stroke="#111" stroke-width="1.1"/>
<rect x="350.15" y="454.65" width="4.70" height="4.70" fill="#111" stroke="#111" stroke-width="1.1"/>
<rect x="360.15" y="450.65" width="4.70" height="4.70" fill="#111" stroke="#111" stroke-width="1.1"/>
<rect x="380.15" y="435.15" width="4.70" height="4.70" fill="#111" stroke="#111" stroke-width="1.1"/>
<rect x="420.90" y="390.90" width="4.70" height="4.70" fill="#111" stroke="#111" stroke-width="1.1"/>
<rect x="501.90" y="367.65" width="4.70" height="4.70" fill="#111" stroke="#111" stroke-width="1.1"/>
<line x1="60.15" y1="534.25" x2="60.15" y2="641.75" stroke="#1c1c1c" stroke-width="1.3"/>
<line x1="56.65" y1="641.75" x2="60.15" y2="641.75" stroke="#1c1c1c" stroke-width="1.3"/>
<text x="55.70" y="645.17" font-size="9.5" text-anchor="end" font-weight="bold" fill="#111" stroke="#111" stroke-width="0.3" >0</text>
<line x1="56.65" y1="606.00" x2="60.15" y2="606.00" stroke="#1c1c1c" stroke-width="1.3"/>
<text x="55.70" y="609.42" font-size="9.5" text-anchor="end" font-weight="bold" fill="#111" stroke="#111" stroke-width="0.3" >5</text>
<line x1="56.65" y1="570.25" x2="60.15" y2="570.25" stroke="#1c1c1c" stroke-width="1.3"/>
<text x="55.70" y="573.67" font-size="9.5" text-anchor="end" font-weight="bold" fill="#111" stroke="#111" stroke-width="0.3" >10</text>
<line x1="56.65" y1="534.50" x2="60.15" y2="534.50" stroke="#1c1c1c" stroke-width="1.3"/>
<text x="55.70" y="537.92" font-size="9.5" text-anchor="end" font-weight="bold" fill="#111" stroke="#111" stroke-width="0.3" >15</text>
<line x1="60.15" y1="641.75" x2="221.25" y2="641.75" stroke="#1c1c1c" stroke-width="1.3"/>
<line x1="87.80" y1="641.75" x2="87.80" y2="645.25" stroke="#1c1c1c" stroke-width="1.3"/>
<text x="87.80" y="655.30" font-size="10.6" text-anchor="middle" font-weight="bold" fill="#111" stroke="#111" stroke-width="0.3" >BSA</text>
<line x1="141.30" y1="641.75" x2="141.30" y2="645.25" stroke="#1c1c1c" stroke-width="1.3"/>
<text x="141.30" y="655.30" font-size="10.6" text-anchor="middle" font-weight="bold" fill="#111" stroke="#111" stroke-width="0.3" >IgG1+ ISO</text>
<line x1="194.70" y1="641.75" x2="194.70" y2="645.25" stroke="#1c1c1c" stroke-width="1.3"/>
<text x="194.70" y="655.30" font-size="10.6" text-anchor="middle" font-weight="bold" fill="#111" stroke="#111" stroke-width="0.3" >IgG1+ 10.1</text>
<text x="0" y="0" font-size="9.6" text-anchor="middle" font-weight="bold" fill="#111" stroke="#111" stroke-width="0.3" transform="translate(38.46,586.90) rotate(-90)">% binding</text>
<rect x="70.65" y="638.90" width="13.20" height="2.85" fill="#fff" stroke="#111" stroke-width="1.3"/>
<rect x="90.65" y="639.90" width="12.95" height="1.85" fill="#151515" stroke="#111" stroke-width="1.3"/>
<line x1="131.00" y1="592.00" x2="131.00" y2="590.30" stroke="#888" stroke-width="1.0"/>
<line x1="128.00" y1="590.30" x2="134.00" y2="590.30" stroke="#1a1a1a" stroke-width="1.5"/>
<rect x="124.90" y="591.90" width="12.45" height="49.85" fill="#fff" stroke="#111" stroke-width="1.3"/>
<line x1="151.20" y1="567.00" x2="151.20" y2="561.50" stroke="#888" stroke-width="1.0"/>
<line x1="147.95" y1="561.50" x2="154.45" y2="561.50" stroke="#1a1a1a" stroke-width="1.5"/>
<rect x="144.90" y="566.90" width="12.70" height="74.85" fill="#151515" stroke="#111" stroke-width="1.3"/>
<line x1="184.60" y1="632.50" x2="184.60" y2="630.00" stroke="#888" stroke-width="1.0"/>
<line x1="182.10" y1="630.00" x2="187.10" y2="630.00" stroke="#1a1a1a" stroke-width="1.5"/>
<rect x="178.15" y="633.15" width="12.95" height="8.60" fill="#fff" stroke="#111" stroke-width="1.3"/>
<rect x="198.65" y="631.90" width="12.70" height="9.85" fill="#151515" stroke="#111" stroke-width="1.3"/>
<polygon points="148.15,548.70 148.80,550.31 150.53,550.43 149.20,551.54 149.62,553.22 148.15,552.30 146.68,553.22 147.10,551.54 145.77,550.43 147.50,550.31" fill="#111" stroke="#111" stroke-width="0.4"/>
<polygon points="153.45,548.70 154.10,550.31 155.83,550.43 154.50,551.54 154.92,553.22 153.45,552.30 151.98,553.22 152.40,551.54 151.07,550.43 152.80,550.31" fill="#111" stroke="#111" stroke-width="0.4"/>
<rect x="69.5" y="534.7" width="11.25" height="6.6" fill="#fff" stroke="#999" stroke-width="1"/>
<rect x="69.5" y="547.1" width="11.25" height="6.5" fill="#151515"/>
<text x="86.90" y="541.90" font-size="10.3" text-anchor="start" font-weight="normal" fill="#111" stroke="#111" stroke-width="0.3" >medium</text>
<text x="86.90" y="554.10" font-size="10.3" text-anchor="start" font-weight="normal" fill="#111" stroke="#111" stroke-width="0.3" >IL-3</text>
<line x1="60.80" y1="708.25" x2="60.80" y2="816.30" stroke="#1c1c1c" stroke-width="1.3"/>
<line x1="57.30" y1="816.30" x2="60.80" y2="816.30" stroke="#1c1c1c" stroke-width="1.3"/>
<text x="56.80" y="819.72" font-size="9.5" text-anchor="end" font-weight="bold" fill="#111" stroke="#111" stroke-width="0.3" >0</text>
<line x1="57.30" y1="780.30" x2="60.80" y2="780.30" stroke="#1c1c1c" stroke-width="1.3"/>
<text x="56.80" y="783.72" font-size="9.5" text-anchor="end" font-weight="bold" fill="#111" stroke="#111" stroke-width="0.3" >5</text>
<line x1="57.30" y1="744.30" x2="60.80" y2="744.30" stroke="#1c1c1c" stroke-width="1.3"/>
<text x="56.80" y="747.72" font-size="9.5" text-anchor="end" font-weight="bold" fill="#111" stroke="#111" stroke-width="0.3" >10</text>
<line x1="57.30" y1="708.30" x2="60.80" y2="708.30" stroke="#1c1c1c" stroke-width="1.3"/>
<text x="56.80" y="711.72" font-size="9.5" text-anchor="end" font-weight="bold" fill="#111" stroke="#111" stroke-width="0.3" >15</text>
<line x1="60.80" y1="816.30" x2="224.00" y2="816.30" stroke="#1c1c1c" stroke-width="1.3"/>
<line x1="81.25" y1="816.30" x2="81.25" y2="819.80" stroke="#1c1c1c" stroke-width="1.3"/>
<text x="81.25" y="829.00" font-size="9.5" text-anchor="middle" font-weight="bold" fill="#111" stroke="#111" stroke-width="0.3" >Medium</text>
<line x1="121.80" y1="816.30" x2="121.80" y2="819.80" stroke="#1c1c1c" stroke-width="1.3"/>
<text x="121.80" y="829.00" font-size="9.5" text-anchor="middle" font-weight="bold" fill="#111" stroke="#111" stroke-width="0.3" >IL-4</text>
<line x1="162.60" y1="816.30" x2="162.60" y2="819.80" stroke="#1c1c1c" stroke-width="1.3"/>
<text x="162.60" y="829.00" font-size="9.5" text-anchor="middle" font-weight="bold" fill="#111" stroke="#111" stroke-width="0.3" >IL-6</text>
<line x1="203.60" y1="816.30" x2="203.60" y2="819.80" stroke="#1c1c1c" stroke-width="1.3"/>
<text x="203.60" y="829.00" font-size="9.5" text-anchor="middle" font-weight="bold" fill="#111" stroke="#111" stroke-width="0.3" >TNF/IFN</text>
<text x="0" y="0" font-size="10.1" text-anchor="middle" font-weight="bold" fill="#111" stroke="#111" stroke-width="0.3" transform="translate(37.74,761.60) rotate(-90)">RBC Binding (%)</text>
<line x1="70.42" y1="790.90" x2="70.42" y2="789.40" stroke="#9a9a9a" stroke-width="1.0"/>
<line x1="68.17" y1="789.40" x2="72.67" y2="789.40" stroke="#222" stroke-width="1.5"/>
<rect x="66.90" y="791.55" width="7.05" height="24.75" fill="#fff" stroke="#111" stroke-width="1.3"/>
<line x1="81.65" y1="749.00" x2="81.65" y2="742.50" stroke="#222" stroke-width="1.5"/>
<line x1="79.40" y1="742.50" x2="83.90" y2="742.50" stroke="#222" stroke-width="1.5"/>
<rect x="78.15" y="749.65" width="7.00" height="66.65" fill="#8d8f93" stroke="#111" stroke-width="1.3"/>
<line x1="92.45" y1="789.70" x2="92.45" y2="787.10" stroke="#222" stroke-width="1.5"/>
<line x1="90.20" y1="787.10" x2="94.70" y2="787.10" stroke="#222" stroke-width="1.5"/>
<rect x="89.05" y="790.35" width="6.80" height="25.95" fill="#151515" stroke="#111" stroke-width="1.3"/>
<line x1="111.20" y1="798.90" x2="111.20" y2="785.40" stroke="#9a9a9a" stroke-width="1.0"/>
<line x1="108.95" y1="785.40" x2="113.45" y2="785.40" stroke="#222" stroke-width="1.5"/>
<rect x="108.05" y="799.55" width="6.30" height="16.75" fill="#fff" stroke="#111" stroke-width="1.3"/>
<line x1="122.10" y1="764.30" x2="122.10" y2="760.30" stroke="#222" stroke-width="1.5"/>
<line x1="119.85" y1="760.30" x2="124.35" y2="760.30" stroke="#222" stroke-width="1.5"/>
<rect x="118.85" y="764.95" width="6.50" height="51.35" fill="#8d8f93" stroke="#111" stroke-width="1.3"/>
<line x1="132.95" y1="791.10" x2="132.95" y2="788.80" stroke="#222" stroke-width="1.5"/>
<line x1="130.70" y1="788.80" x2="135.20" y2="788.80" stroke="#222" stroke-width="1.5"/>
<rect x="129.65" y="791.75" width="6.60" height="24.55" fill="#151515" stroke="#111" stroke-width="1.3"/>
<line x1="151.60" y1="789.70" x2="151.60" y2="786.80" stroke="#9a9a9a" stroke-width="1.0"/>
<line x1="149.35" y1="786.80" x2="153.85" y2="786.80" stroke="#222" stroke-width="1.5"/>
<rect x="147.95" y="790.35" width="7.30" height="25.95" fill="#fff" stroke="#111" stroke-width="1.3"/>
<line x1="162.75" y1="756.80" x2="162.75" y2="751.60" stroke="#222" stroke-width="1.5"/>
<line x1="160.50" y1="751.60" x2="165.00" y2="751.60" stroke="#222" stroke-width="1.5"/>
<rect x="159.35" y="757.45" width="6.80" height="58.85" fill="#8d8f93" stroke="#111" stroke-width="1.3"/>
<line x1="173.75" y1="790.60" x2="173.75" y2="788.30" stroke="#222" stroke-width="1.5"/>
<line x1="171.50" y1="788.30" x2="176.00" y2="788.30" stroke="#222" stroke-width="1.5"/>
<rect x="170.45" y="791.25" width="6.60" height="25.05" fill="#151515" stroke="#111" stroke-width="1.3"/>
<line x1="192.35" y1="786.20" x2="192.35" y2="775.30" stroke="#9a9a9a" stroke-width="1.0"/>
<line x1="190.10" y1="775.30" x2="194.60" y2="775.30" stroke="#222" stroke-width="1.5"/>
<rect x="188.75" y="786.85" width="7.20" height="29.45" fill="#fff" stroke="#111" stroke-width="1.3"/>
<line x1="203.15" y1="722.00" x2="203.15" y2="716.20" stroke="#222" stroke-width="1.5"/>
<line x1="200.90" y1="716.20" x2="205.40" y2="716.20" stroke="#222" stroke-width="1.5"/>
<rect x="199.55" y="722.65" width="7.20" height="93.65" fill="#8d8f93" stroke="#111" stroke-width="1.3"/>
<line x1="214.15" y1="789.70" x2="214.15" y2="786.20" stroke="#222" stroke-width="1.5"/>
<line x1="211.90" y1="786.20" x2="216.40" y2="786.20" stroke="#222" stroke-width="1.5"/>
<rect x="210.75" y="790.35" width="6.80" height="25.95" fill="#151515" stroke="#111" stroke-width="1.3"/>
<polygon points="120.80,743.30 121.45,744.91 123.18,745.03 121.85,746.14 122.27,747.82 120.80,746.90 119.33,747.82 119.75,746.14 118.42,745.03 120.15,744.91" fill="#111" stroke="#111" stroke-width="0.4"/>
<polygon points="199.25,701.10 199.90,702.71 201.63,702.83 200.30,703.94 200.72,705.62 199.25,704.70 197.78,705.62 198.20,703.94 196.87,702.83 198.60,702.71" fill="#111" stroke="#111" stroke-width="0.4"/>
<polygon points="204.55,701.10 205.20,702.71 206.93,702.83 205.60,703.94 206.02,705.62 204.55,704.70 203.08,705.62 203.50,703.94 202.17,702.83 203.90,702.71" fill="#111" stroke="#111" stroke-width="0.4"/>
<rect x="70.6" y="707.3" width="12.1" height="6.5" fill="#fff" stroke="#aaa" stroke-width="1"/>
<rect x="70.6" y="719.6" width="12.1" height="6.4" fill="#8d8f93"/>
<rect x="70.6" y="732.3" width="12.1" height="5.8" fill="#151515"/>
<text x="88.80" y="713.60" font-size="8.7" text-anchor="start" font-weight="normal" fill="#111" stroke="#111" stroke-width="0.3" >unopson</text>
<text x="88.80" y="726.00" font-size="8.7" text-anchor="start" font-weight="normal" fill="#111" stroke="#111" stroke-width="0.3" >opson+iso</text>
<text x="88.80" y="738.60" font-size="8.7" text-anchor="start" font-weight="normal" fill="#111" stroke="#111" stroke-width="0.3" >opson+10.1</text>
<line x1="343.30" y1="711.25" x2="343.30" y2="817.20" stroke="#1c1c1c" stroke-width="1.3"/>
<line x1="339.80" y1="711.21" x2="343.30" y2="711.21" stroke="#1c1c1c" stroke-width="1.3"/>
<text x="339.00" y="714.63" font-size="9.5" text-anchor="end" font-weight="bold" fill="#111" stroke="#111" stroke-width="0.3" >1.3</text>
<line x1="339.80" y1="764.40" x2="343.30" y2="764.40" stroke="#1c1c1c" stroke-width="1.3"/>
<text x="339.00" y="767.82" font-size="9.5" text-anchor="end" font-weight="bold" fill="#111" stroke="#111" stroke-width="0.3" >1.0</text>
<line x1="339.80" y1="817.20" x2="343.30" y2="817.20" stroke="#1c1c1c" stroke-width="1.3"/>
<text x="339.00" y="820.62" font-size="9.5" text-anchor="end" font-weight="bold" fill="#111" stroke="#111" stroke-width="0.3" >0.7</text>
<line x1="343.30" y1="817.20" x2="502.70" y2="817.20" stroke="#1c1c1c" stroke-width="1.3"/>
<line x1="363.40" y1="817.20" x2="363.40" y2="820.70" stroke="#1c1c1c" stroke-width="1.3"/>
<text x="363.40" y="830.50" font-size="9.5" text-anchor="middle" font-weight="bold" fill="#111" stroke="#111" stroke-width="0.3" >medium</text>
<line x1="403.60" y1="817.20" x2="403.60" y2="820.70" stroke="#1c1c1c" stroke-width="1.3"/>
<text x="403.60" y="830.50" font-size="9.5" text-anchor="middle" font-weight="bold" fill="#111" stroke="#111" stroke-width="0.3" >IL-4</text>
<line x1="443.40" y1="817.20" x2="443.40" y2="820.70" stroke="#1c1c1c" stroke-width="1.3"/>
<text x="443.40" y="830.50" font-size="9.5" text-anchor="middle" font-weight="bold" fill="#111" stroke="#111" stroke-width="0.3" >IL-6</text>
<line x1="483.50" y1="817.20" x2="483.50" y2="820.70" stroke="#1c1c1c" stroke-width="1.3"/>
<text x="483.50" y="830.50" font-size="9.5" text-anchor="middle" font-weight="bold" fill="#111" stroke="#111" stroke-width="0.3" >TNF/IFN</text>
<text x="0" y="0" font-size="10.4" text-anchor="middle" font-weight="bold" fill="#111" stroke="#111" stroke-width="0.3" transform="translate(318.74,763.40) rotate(-90)">fold increase</text>
<line x1="356.00" y1="763.50" x2="356.00" y2="760.00" stroke="#888" stroke-width="1.0"/>
<line x1="353.75" y1="760.00" x2="358.25" y2="760.00" stroke="#1a1a1a" stroke-width="1.5"/>
<rect x="351.15" y="764.15" width="9.70" height="53.05" fill="#fff" stroke="#111" stroke-width="1.3"/>
<line x1="370.75" y1="763.50" x2="370.75" y2="750.40" stroke="#888" stroke-width="1.0"/>
<line x1="368.50" y1="750.40" x2="373.00" y2="750.40" stroke="#1a1a1a" stroke-width="1.5"/>
<rect x="365.85" y="764.15" width="9.80" height="53.05" fill="#151515" stroke="#111" stroke-width="1.3"/>
<line x1="395.90" y1="762.50" x2="395.90" y2="760.00" stroke="#888" stroke-width="1.0"/>
<line x1="393.65" y1="760.00" x2="398.15" y2="760.00" stroke="#1a1a1a" stroke-width="1.5"/>
<rect x="391.15" y="763.15" width="9.50" height="54.05" fill="#fff" stroke="#111" stroke-width="1.3"/>
<line x1="411.10" y1="745.00" x2="411.10" y2="737.00" stroke="#888" stroke-width="1.0"/>
<line x1="408.85" y1="737.00" x2="413.35" y2="737.00" stroke="#1a1a1a" stroke-width="1.5"/>
<rect x="406.15" y="745.65" width="9.90" height="71.55" fill="#151515" stroke="#111" stroke-width="1.3"/>
<line x1="435.90" y1="762.50" x2="435.90" y2="760.50" stroke="#888" stroke-width="1.0"/>
<line x1="433.65" y1="760.50" x2="438.15" y2="760.50" stroke="#1a1a1a" stroke-width="1.5"/>
<rect x="431.15" y="763.15" width="9.50" height="54.05" fill="#fff" stroke="#111" stroke-width="1.3"/>
<line x1="450.90" y1="753.70" x2="450.90" y2="746.20" stroke="#888" stroke-width="1.0"/>
<line x1="448.65" y1="746.20" x2="453.15" y2="746.20" stroke="#1a1a1a" stroke-width="1.5"/>
<rect x="446.15" y="754.35" width="9.50" height="62.85" fill="#151515" stroke="#111" stroke-width="1.3"/>
<line x1="475.90" y1="762.00" x2="475.90" y2="758.70" stroke="#888" stroke-width="1.0"/>
<line x1="473.65" y1="758.70" x2="478.15" y2="758.70" stroke="#1a1a1a" stroke-width="1.5"/>
<rect x="471.15" y="762.65" width="9.50" height="54.55" fill="#fff" stroke="#111" stroke-width="1.3"/>
<line x1="491.15" y1="713.70" x2="491.15" y2="712.00" stroke="#888" stroke-width="1.0"/>
<line x1="488.90" y1="712.00" x2="493.40" y2="712.00" stroke="#1a1a1a" stroke-width="1.5"/>
<rect x="486.45" y="714.35" width="9.40" height="102.85" fill="#151515" stroke="#111" stroke-width="1.3"/>
<rect x="351.25" y="709.5" width="11.25" height="6" fill="#fff" stroke="#999" stroke-width="1"/>
<rect x="351.25" y="722" width="11.25" height="5.5" fill="#151515"/>
<text x="368.90" y="715.20" font-size="9" text-anchor="start" font-weight="normal" fill="#111" stroke="#111" stroke-width="0.3" >CD64</text>
<text x="368.90" y="727.80" font-size="9" text-anchor="start" font-weight="normal" fill="#111" stroke="#111" stroke-width="0.3" >CD11b</text>
<defs><radialGradient id="gcell" cx="0.45" cy="0.5" r="0.55"><stop offset="0%" stop-color="#7ccc84"/><stop offset="50%" stop-color="#5cbc66"/><stop offset="85%" stop-color="#48a454"/><stop offset="100%" stop-color="#2e6a3a"/></radialGradient><radialGradient id="gcell2" cx="0.42" cy="0.58" r="0.6"><stop offset="0%" stop-color="#c4eebc"/><stop offset="40%" stop-color="#8cd886"/><stop offset="80%" stop-color="#56b458"/><stop offset="100%" stop-color="#2e6a36"/></radialGradient><linearGradient id="grim" x1="0" y1="1" x2="1" y2="0"><stop offset="0%" stop-color="#c8eacc"/><stop offset="45%" stop-color="#98d09c"/><stop offset="60%" stop-color="#3a7a46"/><stop offset="100%" stop-color="#1c3a24"/></linearGradient><linearGradient id="grim2" x1="0" y1="1" x2="1" y2="0"><stop offset="0%" stop-color="#a8dca0"/><stop offset="35%" stop-color="#4a8a50"/><stop offset="60%" stop-color="#1e4026"/><stop offset="100%" stop-color="#0c1c10"/></linearGradient><radialGradient id="rcell" cx="0.5" cy="0.42" r="0.55"><stop offset="0%" stop-color="#d4605a"/><stop offset="45%" stop-color="#c04a46"/><stop offset="80%" stop-color="#8e3c3a"/><stop offset="100%" stop-color="#6a4a58" stop-opacity="0.4"/></radialGradient><radialGradient id="bcell" cx="0.5" cy="0.5" r="0.5"><stop offset="0%" stop-color="#a05a3c"/><stop offset="60%" stop-color="#84483e"/><stop offset="100%" stop-color="#5e5262" stop-opacity="0.3"/></radialGradient><linearGradient id="bggrad" x1="0" y1="0" x2="0.25" y2="1"><stop offset="0%" stop-color="#4a5062"/><stop offset="45%" stop-color="#555b6b"/><stop offset="100%" stop-color="#626877"/></linearGradient><linearGradient id="bgshade" x1="0" y1="0" x2="1" y2="1"><stop offset="0%" stop-color="#ffffff" stop-opacity="0.02"/><stop offset="100%" stop-color="#000000" stop-opacity="0.03"/></linearGradient></defs>
<clipPath id="c1"><rect x="314.2" y="547.6" width="94.2" height="94"/></clipPath>
<g clip-path="url(#c1)">
<rect x="314.2" y="547.6" width="94.2" height="94" fill="url(#bggrad)"/>
<circle cx="331.3" cy="547.3" r="4" fill="#b0dcb0" opacity="0.55"/>
<circle cx="342.4" cy="551.1" r="4.1" fill="url(#gcell)" stroke="url(#grim)" stroke-width="1.2"/>
<circle cx="336.6" cy="563.7" r="4.1" fill="url(#gcell)" stroke="url(#grim)" stroke-width="1.2"/>
<circle cx="378.7" cy="561.2" r="4.1" fill="url(#gcell)" stroke="url(#grim)" stroke-width="1.2"/>
<circle cx="374.4" cy="579.8" r="4.1" fill="url(#gcell)" stroke="url(#grim)" stroke-width="1.2"/>
<circle cx="387.6" cy="580.6" r="4.4" fill="url(#gcell)" stroke="url(#grim)" stroke-width="1.2"/>
<circle cx="351" cy="598.6" r="4.1" fill="url(#gcell)" stroke="url(#grim)" stroke-width="1.2"/>
<circle cx="380.1" cy="602" r="4.1" fill="url(#gcell)" stroke="url(#grim)" stroke-width="1.2"/>
<circle cx="384.4" cy="612.7" r="4.4" fill="url(#gcell)" stroke="url(#grim)" stroke-width="1.2"/>
<circle cx="376.7" cy="623.8" r="4.1" fill="url(#gcell)" stroke="url(#grim)" stroke-width="1.2"/>
<circle cx="334.3" cy="631.3" r="4.6" fill="url(#gcell)" stroke="url(#grim)" stroke-width="1.2"/>
<circle cx="357.9" cy="633.9" r="4.6" fill="url(#gcell)" stroke="url(#grim)" stroke-width="1.2"/>
<circle cx="374.3" cy="639.5" r="4.1" fill="url(#gcell)" stroke="url(#grim)" stroke-width="1.2"/>
<circle cx="314.5" cy="627" r="3.1" fill="url(#gcell)" stroke="url(#grim)" stroke-width="1.2"/>
<circle cx="346.9" cy="558.4" r="3.3" fill="url(#rcell)"/>
<circle cx="344.6" cy="573.4" r="3.3" fill="url(#rcell)"/>
<circle cx="365.9" cy="579.5" r="3.3" fill="url(#rcell)"/>
<circle cx="340.8" cy="588.6" r="3.3" fill="url(#rcell)"/>
<circle cx="344.3" cy="588.4" r="3.3" fill="url(#rcell)"/>
<circle cx="368.5" cy="589.2" r="3.3" fill="url(#rcell)"/>
<circle cx="334.2" cy="609.6" r="3.3" fill="url(#rcell)"/>
<circle cx="354.4" cy="610.3" r="3.3" fill="url(#rcell)"/>
<circle cx="356.1" cy="619.7" r="3.7" fill="#b8bcc4" stroke="#2a2c34" stroke-width="1.3" stroke-dasharray="5 2 3 3"/>
<path d="M354.5,617.5 L357.5,621.5" stroke="#30323a" stroke-width="1"/>
</g>
<clipPath id="c2"><rect x="416.0" y="547.8" width="93.8" height="93.8"/></clipPath>
<g clip-path="url(#c2)">
<rect x="416.0" y="547.8" width="93.8" height="93.8" fill="url(#bggrad)"/>
<circle cx="423.7" cy="551.7" r="3.7" fill="url(#gcell2)" stroke="url(#grim2)" stroke-width="1.2"/>
<circle cx="453" cy="549.3" r="3.7" fill="url(#gcell2)" stroke="url(#grim2)" stroke-width="1.2"/>
<circle cx="474.3" cy="556.2" r="3.7" fill="url(#gcell2)" stroke="url(#grim2)" stroke-width="1.2"/>
<circle cx="484.2" cy="557.8" r="3.7" fill="url(#gcell2)" stroke="url(#grim2)" stroke-width="1.2"/>
<circle cx="438.1" cy="571" r="3.8" fill="url(#gcell2)" stroke="url(#grim2)" stroke-width="1.2"/>
<circle cx="478.7" cy="572.9" r="3.7" fill="url(#gcell2)" stroke="url(#grim2)" stroke-width="1.2"/>
<circle cx="422.2" cy="580.1" r="3.8" fill="url(#gcell2)" stroke="url(#grim2)" stroke-width="1.2"/>
<circle cx="442.4" cy="580.4" r="3.7" fill="url(#gcell2)" stroke="url(#grim2)" stroke-width="1.2"/>
<circle cx="442.4" cy="584.3" r="3.7" fill="url(#gcell2)" stroke="url(#grim2)" stroke-width="1.2"/>
<circle cx="425.7" cy="592.3" r="3.7" fill="url(#gcell2)" stroke="url(#grim2)" stroke-width="1.2"/>
<circle cx="452.7" cy="596.7" r="3.7" fill="url(#gcell2)" stroke="url(#grim2)" stroke-width="1.2"/>
<circle cx="482.7" cy="593.5" r="4.5" fill="url(#gcell2)" stroke="url(#grim2)" stroke-width="1.2"/>
<circle cx="422" cy="612" r="3.5" fill="url(#gcell2)" stroke="url(#grim2)" stroke-width="1.2"/>
<circle cx="440.5" cy="612" r="4.1" fill="url(#gcell2)" stroke="url(#grim2)" stroke-width="1.2"/>
<circle cx="462" cy="618.5" r="3.7" fill="url(#gcell2)" stroke="url(#grim2)" stroke-width="1.2"/>
<circle cx="419.5" cy="621" r="3.7" fill="url(#gcell2)" stroke="url(#grim2)" stroke-width="1.2"/>
<circle cx="419" cy="630" r="3.5" fill="url(#gcell2)" stroke="url(#grim2)" stroke-width="1.2"/>
<circle cx="455" cy="631" r="3.7" fill="url(#gcell2)" stroke="url(#grim2)" stroke-width="1.2"/>
<circle cx="436.5" cy="636" r="3.7" fill="url(#gcell2)" stroke="url(#grim2)" stroke-width="1.2"/>
<circle cx="498.9" cy="641.8" r="3.7" fill="url(#gcell2)" stroke="url(#grim2)" stroke-width="1.2"/>
<circle cx="418" cy="641.8" r="3.5" fill="url(#gcell2)" stroke="url(#grim2)" stroke-width="1.2"/>
<circle cx="489.8" cy="555.1" r="3" fill="url(#bcell)"/>
<circle cx="485.4" cy="571.3" r="3" fill="url(#bcell)"/>
<circle cx="428.6" cy="587.4" r="2.8" fill="url(#rcell)"/>
<circle cx="421.5" cy="607.5" r="2.6" fill="url(#bcell)"/>
<circle cx="437.5" cy="609" r="2.4" fill="url(#rcell)"/>
<circle cx="459" cy="614.5" r="2.8" fill="url(#rcell)"/>
<circle cx="480.7" cy="609.7" r="2.6" fill="url(#rcell)"/>
<ellipse cx="491.5" cy="613" rx="3.2" ry="6.5" transform="rotate(40 491.5 613)" fill="#b0b2ba" stroke="#2a2c34" stroke-width="1.1"/>
<circle cx="494" cy="610.5" r="1.5" fill="#78b878"/>
<path d="M489.5,611 L493.5,614 M490.5,608.8 L492.5,610.5" stroke="#e0e0e6" stroke-width="0.9"/>
<path d="M462.5,577.5 L470.5,583.5" stroke="#8a8c94" stroke-width="4"/>
<path d="M463,580.5 L465.5,577.5 M465.5,582 L468,579 M468,583.5 L470.5,580.5" stroke="#e4e4ea" stroke-width="1"/>
<path d="M464.2,581.5 L466.6,578.3 M466.8,583 L469.2,579.8" stroke="#26282e" stroke-width="0.9"/>
<path d="M504,550.5 L510,557.5" stroke="#a0a2aa" stroke-width="2.5"/>
<circle cx="472.5" cy="566.5" r="1" fill="#e8eaf0"/>
<circle cx="491" cy="574.5" r="1" fill="#9ad0e0"/>
<circle cx="456" cy="553.2" r="3.5" fill="#58a060" opacity="0.45"/>
</g>
<text x="314.80" y="661.40" font-size="13" text-anchor="start" font-weight="bold" fill="#111" stroke="#111" stroke-width="0.3" >BSA</text>
<text x="416.30" y="661.40" font-size="13" text-anchor="start" font-weight="bold" fill="#111" stroke="#111" stroke-width="0.3" >IgG1</text>
</svg></div>
</body></html>
